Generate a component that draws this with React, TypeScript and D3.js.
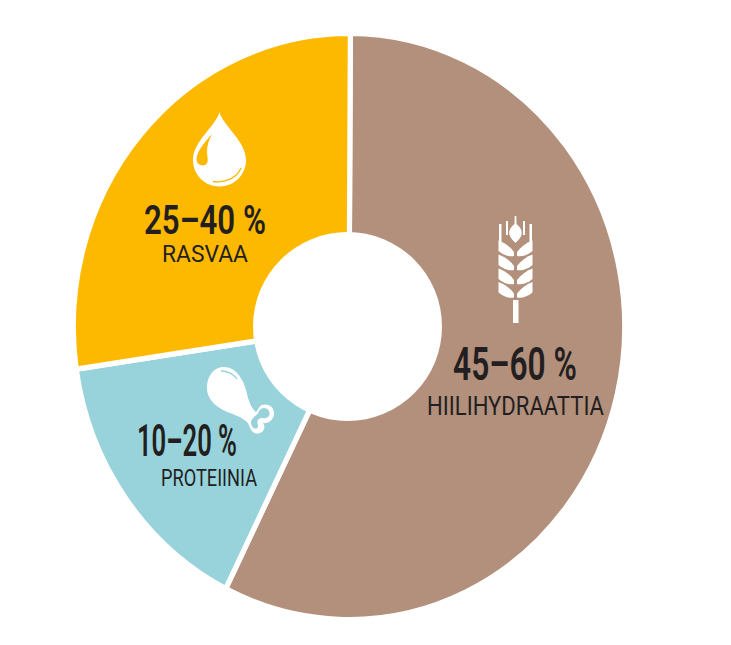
import React from "react";
import * as d3 from "d3";

const categories = ["HIILIHYDRAATTIA", "PROTEIINIA", "RASVAA"];
const shares = [57.3, 15.3, 27.4];
const ranges = ["45–60 %", "10–20 %", "25–40 %"];
const colours = ["#b2907c", "#98d3db", "#fdb900"];

const W = 731, H = 645;
const cx = 349, cy = 326.5, rx = 275.7, ry = 293.2;
const holeR = 94.5;
const INK = "#231f20";
const FONT = "'Liberation Sans Narrow','Roboto','Liberation Sans',sans-serif";

const bigLabels = [
  { x: 453, y: 380, w: 124, size: 47 },
  { x: 137, y: 456, w: 100, size: 44 },
  { x: 144, y: 233.5, w: 122, size: 41 },
];
const smallLabels = [
  { x: 427, y: 415, w: 177, size: 26 },
  { x: 161, y: 486, w: 96, size: 23 },
  { x: 162, y: 262, w: 86, size: 23 },
];

function Drop() {
  return (
    <g>
      <path fill="#fff" d="M219.5,112 C223,126 246,141 246,160 C246,175 234,186.5 219.5,186.5 C205,186.5 193,175 193,160 C193,141 216,126 219.5,112 Z" />
      <path fill={colours[2]} d="M212,134 C205,142 196,152 196.5,160 C197,165 203,167 206.5,164 C209,161 207,157 207,151 C207,145 209,140 212,134 Z" />
      <path fill="none" stroke={colours[2]} strokeWidth={1.3} d="M213,181.5 C225,183 237,178 241,168" />
    </g>
  );
}

function Wheat() {
  const c = 515.5;
  const steps = [0, 14, 28, 41.5];
  return (
    <g fill="#fff">
      <rect x={c - 2.5} y={300} width={5.5} height={23} />
      <path d={`M${c - 0.8},216 L${c + 0.8},216 L${c + 1},224 C${c + 5},227 ${c + 7},231 ${c + 6},235 C${c + 5},238 ${c + 2},241 ${c},243 C${c - 2},241 ${c - 5},238 ${c - 6},235 C${c - 7},231 ${c - 5},227 ${c - 1},224 Z`} />
      {[-1, 1].map((s) => (
        <g key={s}>
          <rect x={s < 0 ? c - 16.5 : c + 14} y={224} width={2.5} height={18} />
          <rect x={s < 0 ? c - 9.5 : c + 7.5} y={221} width={2} height={14} />
          {steps.map((d) => (
            <path key={d} transform={`translate(${c + s * 1.5},${253 + d}) scale(${-s},1)`}
              d="M0,3 C-5,4 -11,2 -15.5,-2 L-15.5,-12.5 C-10,-10.5 -4,-6.5 0,-1 Z" />
          ))}
        </g>
      ))}
    </g>
  );
}

function Drumstick() {
  return (
    <g>
      <path fill="#fff" d="M224,367 C213,367 207,377 207,388 C207,401 219,409 230,413 C238,416 243,418 248,423 C250,428 252,434 258,433.5 C264,433 266,427 263,423 C268,424 274,420 274,413 C274,406 267,403 262,405 C258,407 258,411 256,412 C252,409 250,404 248,398 C245,380 236,367 224,367 Z" />
      <path fill={colours[1]} d="M259,411 C261,407 267,407 269,411 C271,416 267,419 263,418 C259,418 256,420 258,425 C259,429 254,430 252,426 C250,423 251,420 254,417 C256,415 258,414 259,411 Z" />
      <path fill="none" stroke={colours[1]} strokeWidth={1.4} d="M221,371 C227,371 234,374 237,379" />
    </g>
  );
}

export default function App() {
  const pie = d3.pie<number>().sort(null).startAngle(0.005).endAngle(Math.PI * 2 + 0.005)(shares);
  const arc = d3.arc<d3.PieArcDatum<number>>().innerRadius(0).outerRadius(ry);
  return (
    <svg width={W} height={H} viewBox={`0 0 ${W} ${H}`} style={{ position: "absolute", left: 0, top: 0, background: "#fff" }}>
      <g transform={`translate(${cx},${cy}) scale(${rx / ry},1)`}>
        {pie.map((d, i) => (
          <path key={categories[i]} d={arc(d) || ""} fill={colours[i]} stroke="#fff" strokeWidth={5.5} />
        ))}
      </g>
      <circle cx={347.5} cy={326.5} r={holeR} fill="#fff" />
      <Wheat />
      <Drop />
      <Drumstick />
      <g fontFamily={FONT} fill={INK}>
        {ranges.map((t, i) => (
          <text key={t} x={bigLabels[i].x} y={bigLabels[i].y} fontSize={bigLabels[i].size} fontWeight={600}
            textLength={bigLabels[i].w} lengthAdjust="spacingAndGlyphs">{t}</text>
        ))}
        {categories.map((t, i) => (
          <text key={t} x={smallLabels[i].x} y={smallLabels[i].y} fontSize={smallLabels[i].size}
            textLength={smallLabels[i].w} lengthAdjust="spacingAndGlyphs">{t}</text>
        ))}
      </g>
    </svg>
  );
}
